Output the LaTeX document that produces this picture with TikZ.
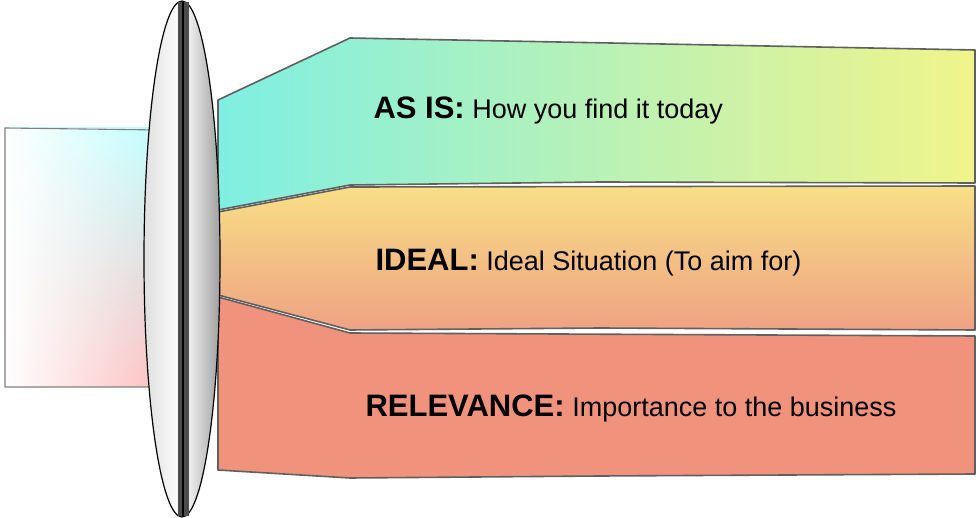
\documentclass[tikz,border=0pt]{standalone}
\usepackage{fontspec}
\setmainfont{Liberation Sans}
\usetikzlibrary{fadings}
\definecolor{bandA}{HTML}{7FEFE3}
\definecolor{bandB}{HTML}{F1F48A}
\definecolor{bandC}{HTML}{F8DF86}
\definecolor{bandD}{HTML}{EFA283}
\definecolor{bandE}{HTML}{F0927C}
\begin{document}
\begin{tikzpicture}[x=1pt,y=-1pt,
  edge/.style={draw=gray!75!black,line width=1.6pt,line join=round},
  lbl/.style={anchor=west,font=\fontsize{27}{30}\selectfont}]
\useasboundingbox (0,0) rectangle (980,518);
% beam
\shade[top color=cyan!25,middle color=yellow!45,bottom color=red!25] (5,128) rectangle (160,387);
\fill[white,path fading=east] (5,128) rectangle (160,387);
\draw[line width=1.1pt,gray] (160,130) -- (5,128) -- (5,387) -- (160,387);
% bands
\shade[left color=bandA,right color=bandB,edge] (218,100) -- (350,38) -- (975,50) -- (975,183) -- (600,182) -- (350,185) -- (218,210) -- cycle;
\shade[top color=bandC,bottom color=bandD,edge] (218,212) -- (350,187) -- (975,186) -- (975,330) -- (600,328) -- (350,330) -- (218,295) -- cycle;
\fill[bandE,edge] (218,297) -- (350,333) -- (975,336) -- (975,474) -- (600,476) -- (350,478) -- (218,470) -- cycle;
% lens
\shade[left color=gray!25,right color=gray!75,middle color=white,draw=black,line width=1.2pt] (182,259) ellipse [x radius=38,y radius=258];
\fill[gray!60!black] (178,2) rectangle (189,516);
\draw[black,line width=1.5pt] (183,2) -- (183,516);
% text
\node[lbl] (t1) at (370,110) {\textbf{\fontsize{31}{34}\selectfont AS IS:} How you find it today};
\node[lbl] (t2) at (372,263) {\textbf{\fontsize{31}{34}\selectfont IDEAL:} Ideal Situation (To aim for)};
\node[lbl] (t3) at (362,408) {\textbf{\fontsize{31}{34}\selectfont RELEVANCE:} Importance to the business};
\end{tikzpicture}
\end{document}
